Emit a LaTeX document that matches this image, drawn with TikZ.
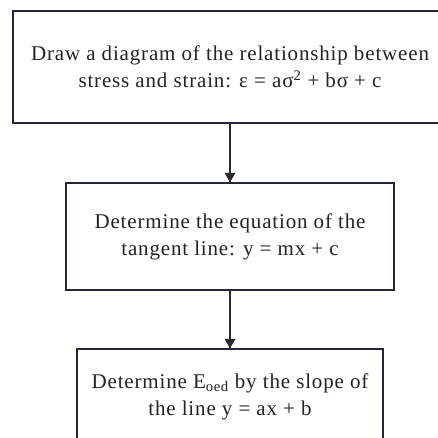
\documentclass[tikz,border=0pt]{standalone}
\usepackage{fontspec}
\setmainfont[LetterSpace=4]{Liberation Serif}
\usetikzlibrary{arrows.meta}
\definecolor{boxline}{HTML}{25273A}
\definecolor{txt}{HTML}{222222}
\definecolor{arr}{HTML}{2A2A2A}
\tikzset{
  stepbox/.style={draw=boxline, line width=1.4pt, text=txt, align=center, inner sep=0pt,
    font=\fontsize{21}{27}\selectfont},
  flow/.style={draw=arr, line width=1.3pt},
  tip/.style={fill=arr}
}
\begin{document}
\begin{tikzpicture}[x=1pt,y=-1pt]
\useasboundingbox (0,0) rectangle (438,437);
\clip (0,0) rectangle (438,437);
\node[stepbox, minimum width=434pt, minimum height=112pt] (b1) at (230,67)
  {Draw a diagram of the relationship between\\stress and strain: ε = aσ\textsuperscript{2} + bσ + c};
\node[stepbox, minimum width=328pt, minimum height=107pt] (b2) at (230,236.5)
  {Determine the equation of the\\tangent line: y = mx + c};
\node[stepbox, minimum width=306pt, minimum height=95pt] (b3) at (230,396.5)
  {Determine E\textsubscript{oed} by the slope of\\the line y = ax + b};
\draw[flow] (b1.south) -- (b2.north);
\fill[tip] (b2.north) -- ++(-5.5,-9.5) -- ++(11,0) -- cycle;
\draw[flow] (b2.south) -- (b3.north);
\fill[tip] (b3.north) -- ++(-5.5,-9.5) -- ++(11,0) -- cycle;
\end{tikzpicture}
\end{document}
